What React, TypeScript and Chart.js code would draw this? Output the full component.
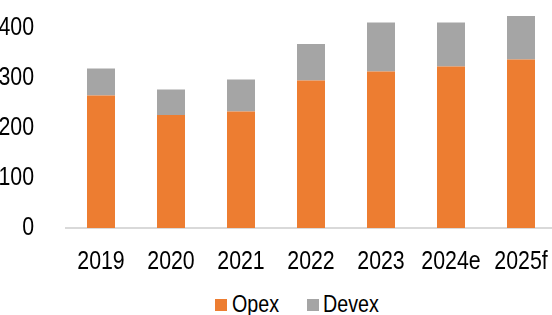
import React, { useEffect, useRef } from "react";
import { Chart, registerables } from "chart.js";

Chart.register(...registerables);

const categories = ["2019", "2020", "2021", "2022", "2023", "2024e", "2025f"];
const opex = [265, 226, 233, 295, 313, 323, 337];
const devex = [54, 51, 64, 73, 98, 88, 87];
const yTicks = [0, 100, 200, 300, 400];

const FONT = "'Liberation Sans', Arial, sans-serif";
const ORANGE = "#ED7D31";
const GRAY = "#A5A5A5";
const NARROW = 0.82; // horizontal condensing, mimics Arial Narrow

const zeroPad = (s: any) => {
  s.paddingLeft = 0;
  s.paddingRight = 0;
  s.paddingTop = 0;
  s.paddingBottom = 0;
};

export default function App() {
  const ref = useRef<HTMLCanvasElement | null>(null);

  useEffect(() => {
    document.body.style.margin = "0";
    const canvas = ref.current;
    if (!canvas) return;
    const ctx = canvas.getContext("2d") as CanvasRenderingContext2D;
    const orig = ctx.fillText.bind(ctx);
    (ctx as any).fillText = (t: string, x: number, y: number, mw?: number) => {
      const w = ctx.measureText(t).width * NARROW;
      orig(t, x, y, mw !== undefined ? Math.min(mw, w) : w);
    };
    const chart = new Chart(ctx, {
      type: "bar",
      data: {
        labels: categories,
        datasets: [
          { label: "Opex", data: opex, backgroundColor: ORANGE, borderWidth: 0 },
          { label: "Devex", data: devex, backgroundColor: GRAY, borderWidth: 0 },
        ],
      },
      options: {
        responsive: true,
        maintainAspectRatio: false,
        animation: false,
        layout: { padding: { top: 3, left: 0, right: 0, bottom: 0 } },
        plugins: { legend: { display: false }, tooltip: { enabled: false } },
        datasets: { bar: { barPercentage: 0.4, categoryPercentage: 1 } },
        scales: {
          x: {
            stacked: true,
            grid: { display: false },
            border: { display: true, color: "#D9D9D9", width: 2 },
            ticks: { color: "#000", font: { family: FONT, size: 26 }, padding: 10, maxRotation: 0, autoSkip: false },
            afterFit: (s: any) => { s.height = 62; zeroPad(s); },
          },
          y: {
            stacked: true,
            min: 0,
            max: 450,
            grid: { display: false },
            border: { display: false },
            afterBuildTicks: (s: any) => { s.ticks = yTicks.map((v) => ({ value: v })); },
            ticks: { color: "#000", font: { family: FONT, size: 26 }, padding: 24 },
            afterFit: (s: any) => { s.width = 66; zeroPad(s); },
          },
        },
      },
    });
    return () => chart.destroy();
  }, []);

  const legendText: React.CSSProperties = {
    position: "absolute",
    top: 292,
    fontFamily: FONT,
    fontSize: 24,
    lineHeight: "24px",
    color: "#000",
    whiteSpace: "nowrap",
    transform: `scaleX(${NARROW})`,
    transformOrigin: "left center",
  };
  const box: React.CSSProperties = { position: "absolute", top: 299, width: 12, height: 12 };

  return (
    <div style={{ position: "fixed", left: 0, top: 0, width: 552, height: 315, overflow: "hidden", background: "#fff" }}>
      <div style={{ position: "absolute", left: 0, top: 0, width: 556, height: 290 }}>
        <canvas ref={ref} />
      </div>
      <div style={{ ...box, left: 215, background: ORANGE }} />
      <div style={{ ...legendText, left: 232 }}>Opex</div>
      <div style={{ ...box, left: 307, background: GRAY }} />
      <div style={{ ...legendText, left: 323 }}>Devex</div>
    </div>
  );
}
